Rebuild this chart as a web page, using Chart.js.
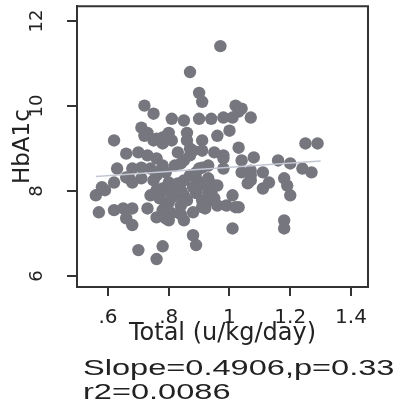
<!DOCTYPE html>
<html>
<head>
<meta charset="utf-8">
<script src="https://cdn.jsdelivr.net/npm/chart.js@4"></script>
<style>
  html, body { margin: 0; padding: 0; background: #fff; }
  #wrap { width: 400px; height: 408px; }
</style>
</head>
<body>
<div id="wrap"><canvas id="chart"></canvas></div>
<script>
"use strict";

// total insulin dose (u/kg/day) and HbA1c
const totalDose = [
  0.97, 0.87, 0.90, 0.91, 0.72, 0.75, 1.02, 1.04, 0.81, 0.85, 0.90, 0.94, 0.98, 1.01, 1.07, 1.03,
  0.71, 0.72, 0.62, 0.75, 0.78, 0.80, 0.86, 0.73, 0.76, 0.81, 0.86, 0.91, 0.87, 0.87, 0.78, 0.83,
  0.91, 0.66, 0.70, 0.73, 0.76, 0.78, 0.82, 0.85, 0.84, 0.71, 0.74, 0.63, 0.68, 0.76, 0.79, 0.62,
  0.67, 0.71, 0.75, 0.80, 0.83, 0.85, 0.87, 0.89, 0.89, 0.91, 0.90, 0.93, 0.95, 0.94, 0.83, 0.88,
  0.92, 0.78, 0.77, 0.79, 0.81, 0.85, 0.84, 0.81, 0.73, 0.76, 0.80, 0.85, 0.91, 0.94, 0.91, 0.96,
  0.99, 1.01, 1.02, 1.01, 0.88, 0.89, 0.70, 0.78, 0.76, 0.56, 0.59, 0.58, 0.57, 0.62, 0.65, 0.68,
  0.66, 0.68, 0.79, 0.78, 0.80, 0.79, 0.82, 0.84, 0.92, 0.93, 0.95, 1.03, 1.18, 1.18, 0.66, 0.68,
  0.76, 0.96, 1.00, 1.03, 1.25, 1.29, 0.95, 0.98, 0.98, 1.04, 1.08, 1.16, 1.20, 1.24, 1.27, 0.93,
  0.98, 1.07, 1.11, 1.07, 1.13, 1.18, 1.19, 0.93, 0.96, 1.11, 1.20, 1.04, 1.07, 1.06, 0.88,
  0.86, 0.89, 0.80, 0.90, 0.76, 0.74, 0.88, 0.84
];
const hba1c = [
  11.41, 10.80, 10.31, 10.10, 10.01, 9.82, 10.01, 9.94, 9.70, 9.66, 9.70, 9.70, 9.73, 9.73, 9.73, 9.87,
  9.49, 9.30, 9.19, 9.19, 9.26, 9.37, 9.37, 9.37, 9.23, 9.19, 9.19, 9.19, 9.00, 8.84, 9.12, 8.91,
  8.95, 8.88, 8.91, 8.84, 8.77, 8.60, 8.60, 8.72, 8.65, 8.55, 8.53, 8.53, 8.53, 8.44, 8.44, 8.20,
  8.30, 8.30, 8.25, 8.20, 8.18, 8.25, 8.37, 8.30, 8.44, 8.55, 8.13, 8.30, 8.13, 7.97, 8.09, 8.09,
  8.20, 8.06, 7.83, 7.66, 7.85, 7.90, 7.66, 7.48, 7.59, 7.38, 7.31, 7.31, 7.78, 7.78, 7.62, 7.66,
  7.66, 7.90, 7.62, 7.12, 6.96, 6.73, 6.61, 6.70, 6.40, 7.90, 8.02, 8.09, 7.50, 7.55, 7.59, 7.59,
  7.36, 7.20, 7.36, 7.55, 7.73, 8.02, 7.90, 8.02, 7.59, 7.97, 7.83, 7.62, 7.31, 7.12, 8.32, 8.20,
  8.37, 9.30, 9.42, 9.02, 9.12, 9.12, 8.91, 8.84, 8.77, 8.72, 8.79, 8.72, 8.65, 8.53, 8.44, 8.60,
  8.53, 8.48, 8.44, 8.25, 8.20, 8.30, 8.13, 8.25, 8.13, 8.06, 7.90, 8.44, 8.37, 8.18, 8.95,
  7.78, 7.95, 8.00, 8.53, 8.02, 7.90, 7.50, 7.45
];

const xTicks = [0.6, 0.8, 1, 1.2, 1.4];
const yTicks = [6, 8, 10, 12];

const fitSlope = 0.4906;
const fitIntercept = 8.07;
const fitRange = [0.56, 1.30];

const statLines = ['Slope=0.4906,p=0.33', 'r2=0.0086'];

function fmtTick(v) {
  return v < 1 ? String(v).replace('0.', '.') : String(v);
}

const framePlugin = {
  id: 'frame',
  afterDraw(chart) {
    const { ctx, chartArea: a } = chart;
    ctx.save();
    ctx.strokeStyle = '#333';
    ctx.lineWidth = 2;
    ctx.beginPath();
    ctx.moveTo(a.left, a.top);
    ctx.lineTo(a.right, a.top);
    ctx.lineTo(a.right, a.bottom);
    ctx.stroke();
    ctx.restore();
  }
};

// stats note under the axis; the scan is stretched sideways so the text is too
const statsPlugin = {
  id: 'stats',
  afterDraw(chart) {
    const ctx = chart.ctx;
    ctx.save();
    ctx.fillStyle = '#222';
    ctx.font = '22px "Liberation Sans", Arial, sans-serif';
    ctx.textBaseline = 'alphabetic';
    ctx.translate(83, 0);
    ctx.scale(1.48, 1);
    ctx.fillText(statLines[0], 0, 374.5);
    ctx.fillText(statLines[1], 0, 398.5);
    ctx.restore();
  }
};

const tickFont = { family: 'DejaVu Sans', size: 20 };
const titleFont = { family: 'DejaVu Sans', size: 23 };

function noEdgePadding(s) {
  s.paddingTop = 0;
  s.paddingBottom = 0;
  s.paddingLeft = 0;
  s.paddingRight = 0;
}

new Chart(document.getElementById('chart'), {
  data: {
    datasets: [{
      type: 'line',
      data: fitRange.map(x => ({ x: x, y: fitIntercept + fitSlope * x })),
      borderColor: '#c3c7d4',
      borderWidth: 1.5,
      pointRadius: 0,
      order: 0
    }, {
      type: 'scatter',
      data: totalDose.map((x, i) => ({ x: x, y: hba1c[i] })),
      backgroundColor: '#76767e',
      borderWidth: 0,
      pointRadius: 6.2,
      order: 1
    }]
  },
  options: {
    responsive: true,
    maintainAspectRatio: false,
    animation: false,
    devicePixelRatio: 1,
    layout: { padding: { top: 5, right: 32, bottom: 60, left: 0 } },
    plugins: { legend: { display: false }, tooltip: { enabled: false } },
    scales: {
      x: {
        type: 'linear',
        min: 0.498,
        max: 1.456,
        afterBuildTicks: s => { s.ticks = xTicks.map(v => ({ value: v })); },
        afterFit: s => { s.height = 61; noEdgePadding(s); },
        ticks: { font: tickFont, color: '#222', padding: 10, maxRotation: 0, autoSkip: false, callback: v => fmtTick(v) },
        grid: { drawOnChartArea: false, drawTicks: true, tickLength: 9, color: '#333', lineWidth: 2 },
        border: { display: true, color: '#333', width: 2 },
        title: { display: true, text: 'Total (u/kg/day)', font: { family: 'DejaVu Sans', size: 24 }, color: '#222', padding: { top: 0, bottom: 0 } }
      },
      y: {
        type: 'linear',
        min: 5.742,
        max: 12.35,
        afterBuildTicks: s => { s.ticks = yTicks.map(v => ({ value: v })); },
        afterFit: s => { s.width = 77; noEdgePadding(s); },
        ticks: { font: { family: 'DejaVu Sans', size: 18 }, color: '#222', padding: 18, minRotation: 90, maxRotation: 90, crossAlign: 'center', autoSkip: false },
        grid: { drawOnChartArea: false, drawTicks: true, tickLength: 10, color: '#333', lineWidth: 2 },
        border: { display: true, color: '#333', width: 2 },
        title: { display: true, text: 'HbA1c', font: titleFont, color: '#222', padding: { top: 9, bottom: 0 } }
      }
    }
  },
  plugins: [framePlugin, statsPlugin]
});
</script>
</body>
</html>
